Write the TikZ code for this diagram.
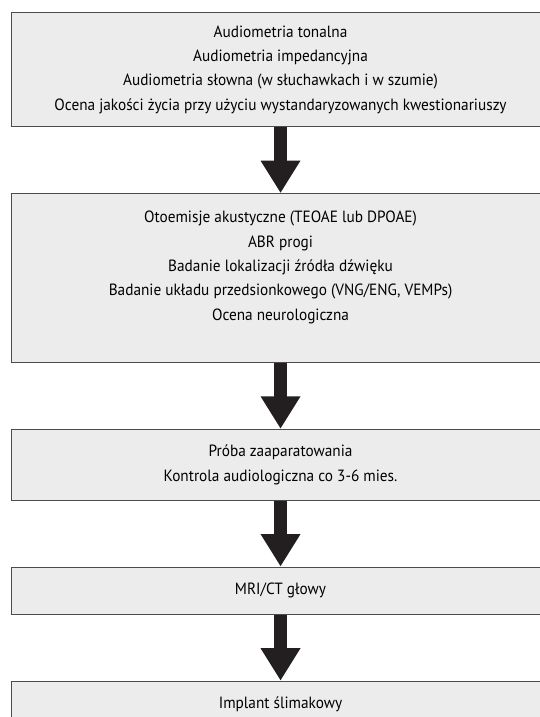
\documentclass[tikz,border=0pt]{standalone}
\usepackage{fontspec}
\setmainfont[FakeStretch=0.94]{PT Sans}
\usepackage{xcolor}
\usetikzlibrary{
	arrows.meta,
	positioning
}
\definecolor{boxgray}{HTML}{ECECEC}
\definecolor{arrowblack}{HTML}{231F20}

\begin{document}
\begin{tikzpicture}[
			x=0.75pt, y=0.75pt,
			node distance=49.5pt,
			stage/.style={
				rectangle, draw=black!70, line width=0.8pt,
				minimum width=403.5pt, inner sep=0pt,
				align=center, fill=boxgray, font=\fontsize{12.2}{18.3}\selectfont
			},
			bigarrow/.style={-{Triangle[width=28.2pt, length=24.4pt]}, line width=9.5pt, arrowblack}
			]
			\useasboundingbox (0,0) rectangle (539,-717);
			
			% ---------------- audiometry ----------------
			\node[stage, minimum height=85.3pt, anchor=north west] (audio) at (11,-12.3) {
				Audiometria tonalna\\
				Audiometria impedancyjna\\
				Audiometria słowna (w słuchawkach i w szumie)\\
				Ocena jakości życia przy użyciu wystandaryzowanych kwestionariuszy
			};
			
			% ---------------- objective tests ----------------
			\node[stage, minimum height=126.5pt, below=of audio] (otoemis) {
				Otoemisje akustyczne (TEOAE lub DPOAE)\\
				ABR progi\\
				Badanie lokalizacji źródła dźwięku\\
				Badanie układu przedsionkowego (VNG/ENG, VEMPs)\\
				Ocena neurologiczna\\
				\mbox{}
			};
			\draw[bigarrow] (audio) -- (otoemis);
			
			% ---------------- hearing aids ----------------
			\node[stage, minimum height=53pt, below=of otoemis] (aparat) {
				Próba zaaparatowania\\
				Kontrola audiologiczna co 3-6 mies.
			};
			\draw[bigarrow] (otoemis) -- (aparat);
			
			% ---------------- imaging ----------------
			\node[stage, minimum height=35.3pt, below=of aparat] (mri) {MRI/CT głowy};
			\draw[bigarrow] (aparat) -- (mri);
			
			% ---------------- implant ----------------
			\node[stage, minimum height=34pt, below=of mri] (implant) {Implant ślimakowy};
			\draw[bigarrow] (mri) -- (implant);
		\end{tikzpicture}
\end{document}
